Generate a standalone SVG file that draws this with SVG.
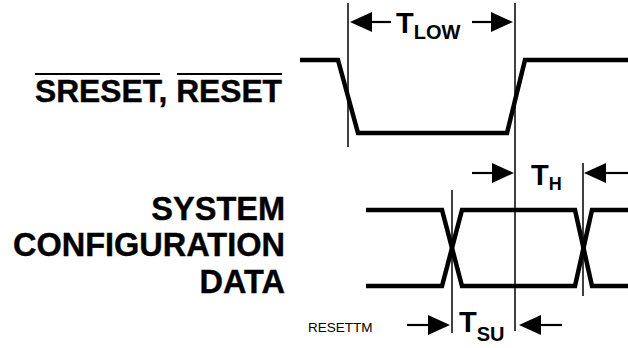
<svg xmlns="http://www.w3.org/2000/svg" width="628" height="348" viewBox="0 0 628 348">
<style>
.lbl{font-family:"Liberation Sans",Arial,sans-serif;font-weight:bold;fill:#000}
.sm{font-family:"Liberation Sans",Arial,sans-serif;fill:#000}
.wave{fill:none;stroke:#000;stroke-width:4.5;stroke-linejoin:miter}
.thin{fill:none;stroke:#000;stroke-width:1.5}
.shaft{fill:none;stroke:#000;stroke-width:2.2}
.head{fill:#000}
</style>
<rect width="628" height="348" fill="#fff"/>
<g id="label-reset">
<text class="lbl" x="35" y="102" font-size="31" textLength="247" lengthAdjust="spacingAndGlyphs" stroke="#000" stroke-width="0.4">SRESET, RESET</text>
<line x1="35" y1="74" x2="160" y2="74" stroke="#000" stroke-width="2"/>
<line x1="177" y1="74" x2="282" y2="74" stroke="#000" stroke-width="2"/>
</g>
<g id="label-config">
<text class="lbl" x="285" y="220" font-size="32.5" text-anchor="end" stroke="#000" stroke-width="0.4">SYSTEM</text>
<text class="lbl" x="285" y="256" font-size="32.5" text-anchor="end" stroke="#000" stroke-width="0.4">CONFIGURATION</text>
<text class="lbl" x="285" y="293" font-size="32.5" text-anchor="end" stroke="#000" stroke-width="0.4">DATA</text>
</g>
<g id="label-resettm">
<text class="sm" x="308" y="332" font-size="13.5">RESETTM</text>
</g>
<g id="wave-reset">
<polyline class="wave" points="300,60 338,60 358,133 507,133 525,60 628,60"/>
</g>
<g id="wave-data">
<polyline class="wave" points="366,210 442,210 462,286 575,286 592,210 628,210"/>
<polyline class="wave" points="366,286 442,286 462,210 575,210 592,286 628,286"/>
</g>
<g id="connectors">
<line class="thin" x1="348" y1="3" x2="348" y2="147"/>
<line class="thin" x1="515" y1="3" x2="515" y2="331"/>
<line class="thin" x1="452" y1="190" x2="452" y2="333"/>
<line class="thin" x1="583" y1="163" x2="583" y2="296"/>
<!-- T_LOW -->
<line class="shaft" x1="368" y1="22" x2="391" y2="22"/>
<polygon class="head" points="350,22 372,12 372,32"/>
<line class="shaft" x1="472" y1="22" x2="494" y2="22"/>
<polygon class="head" points="513,22 491,12 491,32"/>
<!-- T_H -->
<line class="shaft" x1="472" y1="173" x2="496" y2="173"/>
<polygon class="head" points="514,173 492,163 492,183"/>
<line class="shaft" x1="602" y1="173" x2="628" y2="173"/>
<polygon class="head" points="584,173 606,163 606,183"/>
<!-- T_SU -->
<line class="shaft" x1="407" y1="325" x2="432" y2="325"/>
<polygon class="head" points="450,325 428,315 428,335"/>
<line class="shaft" x1="537" y1="325" x2="562" y2="325"/>
<polygon class="head" points="519,325 541,315 541,335"/>
</g>
<g id="label-tlow">
<text class="lbl" x="396" y="33" font-size="29">T<tspan font-size="20" dy="6">LOW</tspan></text>
</g>
<g id="label-th">
<text class="lbl" x="531" y="185" font-size="29">T<tspan font-size="18" dy="5">H</tspan></text>
</g>
<g id="label-tsu">
<text class="lbl" x="459" y="332" font-size="29">T<tspan font-size="20" dy="9">SU</tspan></text>
</g>
</svg>
